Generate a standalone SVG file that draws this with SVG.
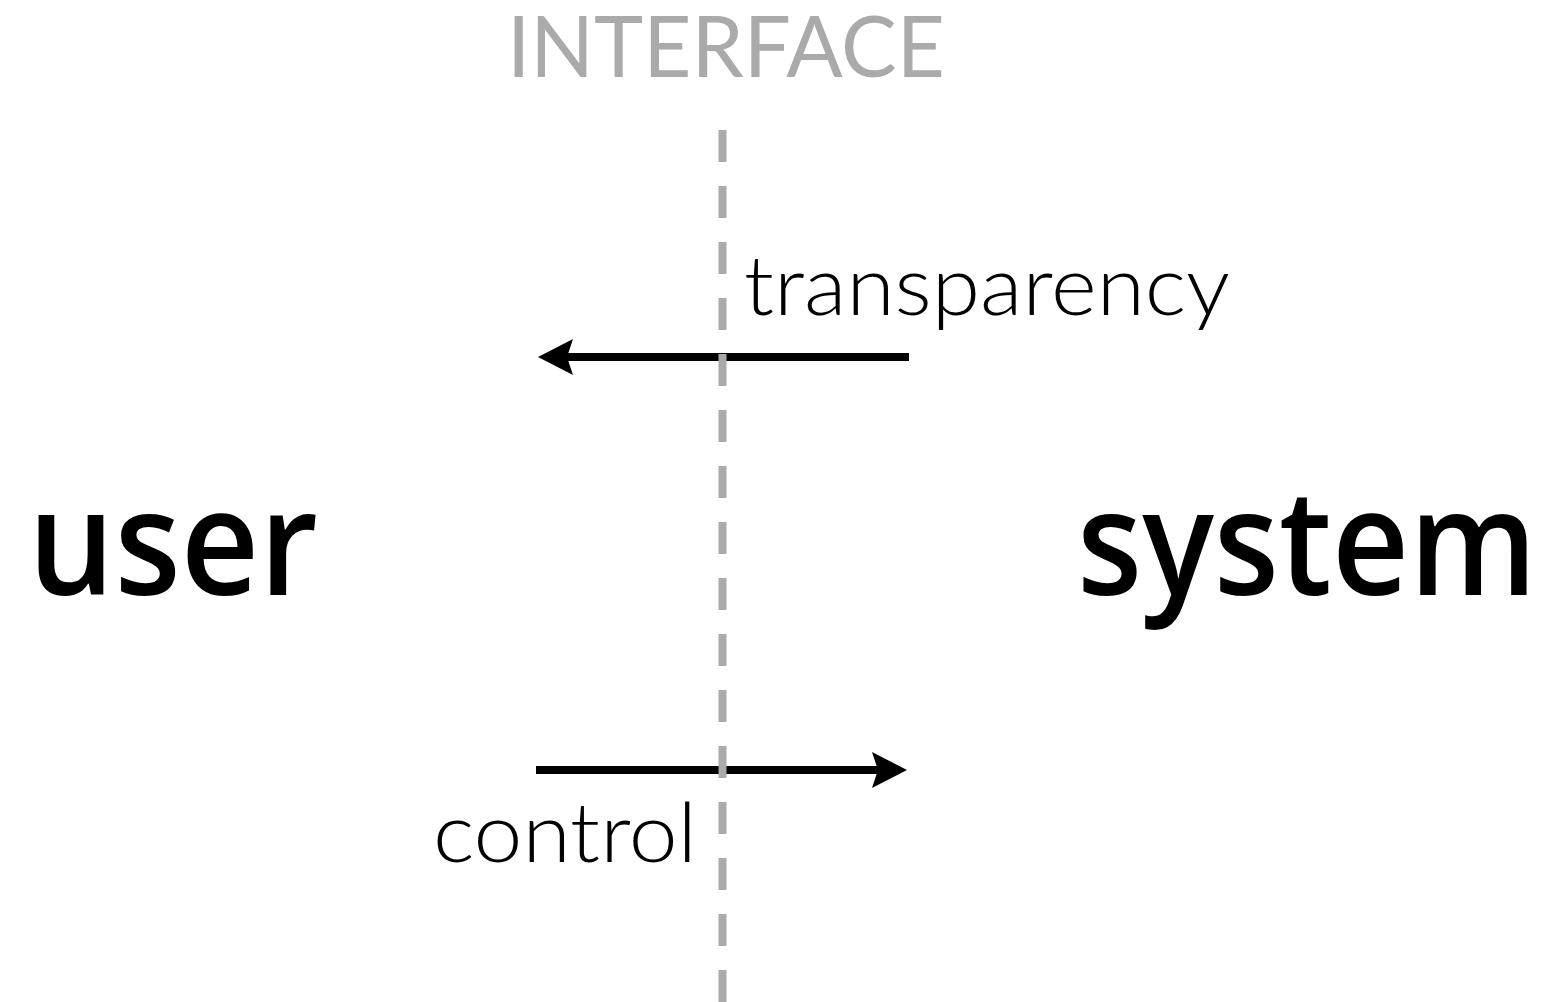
<svg xmlns="http://www.w3.org/2000/svg" width="1553" height="1002" viewBox="0 0 1553 1002">
  <style>
    .lbl { font-family: "Liberation Sans", Arial, sans-serif; fill: #000; }
    .big { font-family: "Open Sans", "Liberation Sans", sans-serif; font-size: 146px; font-weight: 600; }
    .mid { font-family: "Lato", "Liberation Sans", sans-serif; font-size: 82px; font-weight: 300; }
    .title { font-family: "Lato", "Liberation Sans", sans-serif; font-size: 86px; font-weight: 400; fill: #aaaaaa; }
    .arrow { stroke: #000; stroke-width: 8; fill: none; marker-end: url(#head); }
    .divider { stroke: #aaaaaa; stroke-width: 8; stroke-dasharray: 32 24; fill: none; }
  </style>
  <defs>
    <marker id="head" viewBox="0 0 35 36" markerWidth="35" markerHeight="36" markerUnits="userSpaceOnUse" refX="6" refY="18" orient="auto">
      <path d="M35,18 L0,0 L6,18 L0,36 Z" fill="#000"/>
    </marker>
  </defs>
  <rect width="1553" height="1002" fill="#fff"/>
  <g id="interface-title">
    <text class="lbl title" x="507" y="77" textLength="438" lengthAdjust="spacingAndGlyphs">INTERFACE</text>
  </g>
  <g id="user">
    <text class="lbl big" x="28" y="595" textLength="290" lengthAdjust="spacingAndGlyphs">user</text>
  </g>
  <g id="system">
    <text class="lbl big" x="1077" y="595" textLength="460" lengthAdjust="spacingAndGlyphs">system</text>
  </g>
  <g id="connectors">
    <g id="transparency-arrow">
      <line class="arrow" x1="909" y1="357" x2="567" y2="357"/>
      <text class="lbl mid" x="744" y="315" textLength="486" lengthAdjust="spacingAndGlyphs">transparency</text>
    </g>
    <g id="control-arrow">
      <line class="arrow" x1="536" y1="770" x2="878" y2="770"/>
      <text class="lbl mid" x="433" y="862" textLength="264" lengthAdjust="spacingAndGlyphs">control</text>
    </g>
  </g>
  <g id="interface-line">
    <line class="divider" x1="722.5" y1="130" x2="722.5" y2="1002"/>
  </g>
</svg>
